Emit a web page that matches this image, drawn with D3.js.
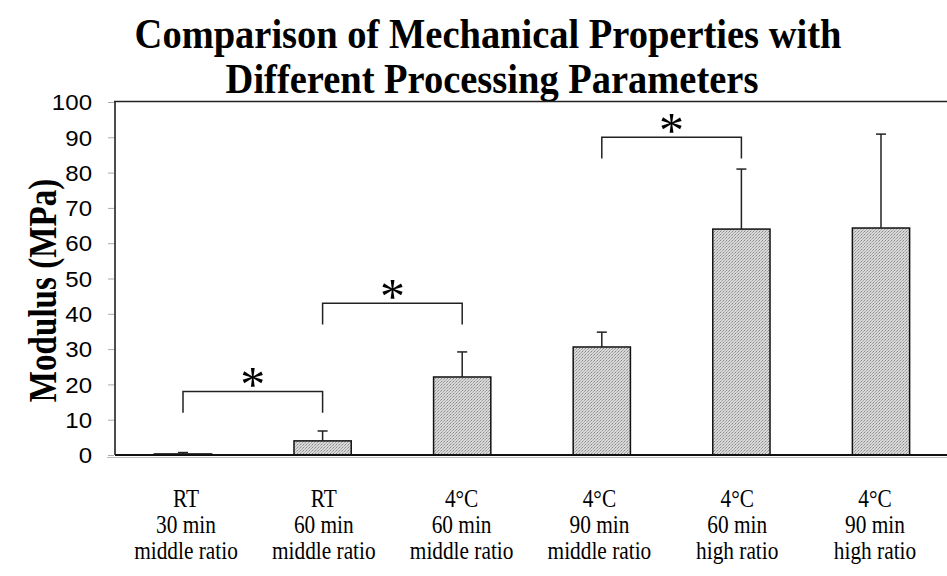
<!DOCTYPE html>
<html>
<head>
<meta charset="utf-8">
<script src="https://cdn.jsdelivr.net/npm/d3@7/dist/d3.min.js"></script>
<style>
  html, body { margin: 0; padding: 0; background: #fff; }
  svg { display: block; }
</style>
</head>
<body>
<svg id="chart" width="947" height="576"></svg>
<script>
// Group labels (three lines each) and the measured modulus values
const conditions = ["RT", "RT", "4°C", "4°C", "4°C", "4°C"];
const durations = ["30 min", "60 min", "60 min", "90 min", "60 min", "90 min"];
const ratios = ["middle ratio", "middle ratio", "middle ratio", "middle ratio", "high ratio", "high ratio"];
const modulusMean = [0.3, 4.0, 22.1, 30.6, 64.0, 64.3];
const modulusSD = [0.4, 2.8, 7.1, 4.2, 17.0, 26.6];
const yTicks = [0, 10, 20, 30, 40, 50, 60, 70, 80, 90, 100];

// Significance brackets: pair of groups, bracket height, leg bottom (MPa)
const sigFrom = [0, 1, 3];
const sigTo = [1, 2, 4];
const sigTop = [18, 43, 90];
const sigLeg = [12, 37, 84];

const titleLines = ["Comparison of Mechanical Properties with", "Different Processing Parameters"];

const svg = d3.select("#chart");
const W = 947;
const serif = "'Liberation Serif', 'Times New Roman', serif";

const plot = { left: 115, top: 102, bottom: 455 };

const x = d3.scaleBand()
  .domain(d3.range(modulusMean.length))
  .range([113.2, 113.2 + 139.6 * 6])
  .paddingInner(0.59)
  .paddingOuter(0.295);

// Category text sits on its own, slightly tighter spacing
const xLabel = d3.scalePoint()
  .domain(d3.range(modulusMean.length))
  .range([186, 875]);

const y = d3.scaleLinear().domain([0, 100]).range([plot.bottom, plot.top]);

// Stippled grey fill for the bars
const defs = svg.append("defs");
const pat = defs.append("pattern")
  .attr("id", "stipple")
  .attr("width", 3).attr("height", 3)
  .attr("patternUnits", "userSpaceOnUse");
pat.append("rect").attr("width", 3).attr("height", 3).attr("fill", "#d8d8d8");
pat.append("rect").attr("x", 0).attr("y", 0).attr("width", 1).attr("height", 1).attr("fill", "#8a8a8a");
pat.append("rect").attr("x", 2).attr("y", 1).attr("width", 1).attr("height", 1).attr("fill", "#a4a4a4");
pat.append("rect").attr("x", 1).attr("y", 2).attr("width", 1).attr("height", 1).attr("fill", "#b4b4b4");

// Title
titleLines.forEach((t, i) => {
  svg.append("text")
    .attr("transform", `translate(${i === 0 ? 488 : 492}, ${i === 0 ? 48 : 93}) scale(1, 1.08)`)
    .attr("text-anchor", "middle")
    .style("font-family", serif)
    .style("font-weight", "bold")
    .style("font-size", "38.5px")
    .text(t);
});

// Y axis title
svg.append("text")
  .attr("transform", `translate(56, ${(plot.top + plot.bottom) / 2 + 12}) rotate(-90) scale(0.92, 1.12)`)
  .attr("text-anchor", "middle")
  .style("font-family", serif)
  .style("font-weight", "bold")
  .style("font-size", "36px")
  .text("Modulus (MPa)");

// Y axis with tick labels
const yAxis = d3.axisLeft(y).tickValues(yTicks).tickSize(6).tickPadding(22);
const yg = svg.append("g")
  .attr("transform", `translate(${plot.left - 1},0)`)
  .call(yAxis);
yg.select(".domain").remove();
yg.selectAll(".tick line").attr("stroke", "#aaa").attr("stroke-width", 1);
yg.selectAll(".tick text")
  .style("font-family", "'Liberation Sans', Arial, sans-serif")
  .style("font-size", "21.5px")
  .attr("fill", "#000")
  .attr("dy", "0.36em")
  .attr("transform", "scale(1.12,1)");
yg.selectAll(".tick text").attr("x", -22 / 1.12);

// Plot frame: left axis, top border
svg.append("line")
  .attr("x1", plot.left).attr("x2", plot.left)
  .attr("y1", plot.top).attr("y2", plot.bottom)
  .attr("stroke", "#111").attr("stroke-width", 1.5);
svg.append("line")
  .attr("x1", plot.left - 1).attr("x2", W)
  .attr("y1", plot.top - 0.5).attr("y2", plot.top - 0.5)
  .attr("stroke", "#222").attr("stroke-width", 1.5);

// Bars
svg.append("g").selectAll("rect")
  .data(modulusMean)
  .join("rect")
  .attr("x", (d, i) => x(i))
  .attr("y", d => y(d))
  .attr("width", x.bandwidth())
  .attr("height", d => y(0) - y(d))
  .attr("fill", "url(#stipple)")
  .attr("stroke", "#111")
  .attr("stroke-width", 1.5);

// Upper error bars
const eg = svg.append("g").attr("stroke", "#222").attr("stroke-width", 1.5);
modulusMean.forEach((m, i) => {
  const cx = x(i) + x.bandwidth() / 2;
  eg.append("line")
    .attr("x1", cx).attr("x2", cx)
    .attr("y1", y(m)).attr("y2", y(m + modulusSD[i]));
  eg.append("line")
    .attr("x1", cx - 5).attr("x2", cx + 5)
    .attr("y1", y(m + modulusSD[i])).attr("y2", y(m + modulusSD[i]));
});

// Baseline drawn over bar bottoms
svg.append("line")
  .attr("x1", plot.left - 8).attr("x2", W)
  .attr("y1", plot.bottom + 2.5).attr("y2", plot.bottom + 2.5)
  .attr("stroke", "#bbb").attr("stroke-width", 1);
svg.append("line")
  .attr("x1", plot.left).attr("x2", W)
  .attr("y1", plot.bottom).attr("y2", plot.bottom)
  .attr("stroke", "#111").attr("stroke-width", 2);

// Significance brackets with asterisks
const bg = svg.append("g");
sigFrom.forEach((a, k) => {
  const xa = x(a) + x.bandwidth() / 2;
  const xb = x(sigTo[k]) + x.bandwidth() / 2;
  bg.append("path")
    .attr("d", `M${xa},${y(sigLeg[k])}V${y(sigTop[k])}H${xb}V${y(sigLeg[k])}`)
    .attr("fill", "none")
    .attr("stroke", "#222")
    .attr("stroke-width", 1.5);
  bg.append("text")
    .attr("x", (xa + xb) / 2)
    .attr("y", y(sigTop[k]) + 10)
    .attr("text-anchor", "middle")
    .style("font-family", serif)
    .style("font-size", "50px")
    .text("*");
});

// Category labels, three lines per group
const lg = svg.append("g")
  .style("font-family", serif)
  .style("font-size", "22px")
  .attr("text-anchor", "middle");
conditions.forEach((c, i) => {
  const cx = xLabel(i);
  [c, durations[i], ratios[i]].forEach((s, j) => {
    lg.append("text")
      .attr("transform", `translate(${cx}, ${507 + j * 26}) scale(0.97, 1.1)`)
      .text(s);
  });
});
</script>
</body>
</html>
